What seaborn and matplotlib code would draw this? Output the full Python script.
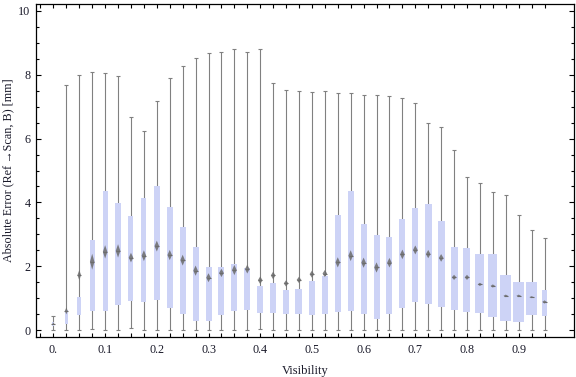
import numpy as np
import matplotlib
matplotlib.use("Agg")
import matplotlib.pyplot as plt
from matplotlib.patches import Polygon
import seaborn as sns
import pandas as pd

# Box-whisker summaries
visibility = [0.0, 0.025, 0.05, 0.075, 0.1, 0.125, 0.15, 0.175, 0.2, 0.225,
              0.25, 0.275, 0.3, 0.325, 0.35, 0.375, 0.4, 0.425, 0.45, 0.475,
              0.5, 0.525, 0.55, 0.575, 0.6, 0.625, 0.65, 0.675, 0.7, 0.725,
              0.75, 0.775, 0.8, 0.825, 0.85, 0.875, 0.9, 0.925, 0.95]
whisker_low = [0.0, 0.0, 0.0, 0.02, 0.0, 0.0, 0.06, 0.0, 0.0, 0.0,
               0.0, 0.0, 0.0, 0.0, 0.0, 0.0, 0.03, 0.0, 0.0, 0.0,
               0.0, 0.0, 0.0, 0.0, 0.0, 0.0, 0.0, 0.0, 0.0, 0.0,
               0.0, 0.0, 0.0, 0.0, 0.0, 0.0, 0.0, 0.0, 0.0]
q1 = [0.12, 0.19, 0.48, 0.58, 0.61, 0.79, 0.92, 0.89, 0.95, 0.70,
      0.51, 0.29, 0.29, 0.48, 0.60, 0.63, 0.54, 0.54, 0.51, 0.51,
      0.46, 0.51, 0.57, 0.61, 0.51, 0.36, 0.51, 0.70, 0.88, 0.82,
      0.73, 0.64, 0.57, 0.52, 0.42, 0.28, 0.26, 0.48, 0.45]
mean_err = [0.20, 0.60, 1.72, 2.14, 2.45, 2.48, 2.27, 2.33, 2.63, 2.35,
            2.19, 1.86, 1.64, 1.79, 1.88, 1.91, 1.56, 1.71, 1.46, 1.57,
            1.75, 1.77, 2.12, 2.33, 2.11, 1.96, 2.11, 2.37, 2.51, 2.38,
            2.26, 1.65, 1.65, 1.43, 1.38, 1.07, 1.07, 1.03, 0.88]
q3 = [0.26, 0.63, 1.03, 2.82, 4.36, 3.98, 3.57, 4.13, 4.51, 3.85,
      3.22, 2.60, 1.97, 1.97, 2.07, 1.93, 1.38, 1.47, 1.25, 1.29,
      1.54, 1.69, 3.60, 4.36, 3.32, 2.98, 2.92, 3.48, 3.82, 3.95,
      3.42, 2.60, 2.57, 2.38, 2.38, 1.72, 1.50, 1.50, 1.25]
whisker_high = [0.43, 7.67, 7.98, 8.08, 8.05, 7.95, 6.67, 6.23, 7.17, 7.89,
                8.27, 8.52, 8.67, 8.70, 8.80, 8.70, 8.80, 7.73, 7.51, 7.48,
                7.45, 7.48, 7.42, 7.42, 7.36, 7.36, 7.32, 7.26, 7.11, 6.48,
                6.35, 5.63, 4.79, 4.60, 4.32, 4.22, 3.60, 3.13, 2.87]
mean_ci = [0.04, 0.11, 0.16, 0.25, 0.21, 0.21, 0.15, 0.17, 0.17, 0.16,
           0.17, 0.16, 0.14, 0.13, 0.16, 0.14, 0.12, 0.12, 0.10, 0.10,
           0.11, 0.11, 0.16, 0.17, 0.16, 0.16, 0.15, 0.15, 0.14, 0.13,
           0.12, 0.08, 0.08, 0.05, 0.05, 0.04, 0.04, 0.03, 0.05]
x_tick_values = [0.0, 0.1, 0.2, 0.3, 0.4, 0.5, 0.6, 0.7, 0.8, 0.9]
x_tick_labels = ['0.', '0.1', '0.2', '0.3', '0.4', '0.5', '0.6', '0.7', '0.8', '0.9']

# box widths in pixels (as drawn in the reference)
box_px = [2, 3, 4, 5, 5, 5.3, 5, 5, 6, 6,
          6, 6, 6, 6, 6, 6, 6.3, 6.3, 6.7, 7,
          6.3, 6, 6, 6, 6, 6, 6, 6, 6, 6.7,
          7, 7, 7, 9, 9, 11, 10.7, 11, 5.7]

sns.set_theme(style="ticks")
plt.rcParams['font.family'] = ['Liberation Serif', 'DejaVu Serif']

BOX_COLOR = '#cdd3f6'
WHISKER_COLOR = '#808080'
MEAN_COLOR = '#6c6c6c'
TEXT_COLOR = '#1a1a2a'
PX = 1 / 517.6  # data units per pixel along x

df = pd.DataFrame({'visibility': visibility, 'lo': whisker_low, 'q1': q1,
                   'mean': mean_err, 'q3': q3, 'hi': whisker_high, 'ci': mean_ci})

fig = plt.figure(figsize=(5.76, 3.77), dpi=100)
ax = fig.add_axes([36 / 576, 1 - 336.7 / 377, 538 / 576, 332.4 / 377])

# whiskers with caps
ax.vlines(df['visibility'], df['lo'], df['hi'], color=WHISKER_COLOR, lw=0.8, zorder=1)
ax.hlines(df['hi'], df['visibility'] - 2 * PX, df['visibility'] + 2 * PX,
          color=WHISKER_COLOR, lw=0.8, zorder=1)
ax.hlines(df['lo'], df['visibility'] - 2 * PX, df['visibility'] + 2 * PX,
          color=WHISKER_COLOR, lw=0.8, zorder=1)

# boxes
widths = np.array(box_px) * PX
ax.bar(df['visibility'], df['q3'] - df['q1'], bottom=df['q1'], width=widths,
       color=BOX_COLOR, edgecolor='none', zorder=2)

# mean diamonds
for x, m, ci, bw in zip(df['visibility'], df['mean'], df['ci'], box_px):
    hw = min(2.3, 0.45 * bw) * PX
    ax.add_patch(Polygon([(x - hw, m), (x, m + ci), (x + hw, m), (x, m - ci)],
                         closed=True, facecolor=MEAN_COLOR, edgecolor='none',
                         alpha=0.85, zorder=3))
sns.scatterplot(data=df, x='visibility', y='mean', marker='_', s=10,
                color=MEAN_COLOR, linewidth=0.8, ax=ax, zorder=4, legend=False)

ax.set_xlim(-0.0337, 1.007)
ax.set_ylim(-0.21, 10.21)
ax.set_xticks(x_tick_values)
ax.set_xticklabels(x_tick_labels)
ax.set_xticks(np.arange(-0.025, 0.96, 0.025), minor=True)
ax.set_yticks([0, 2, 4, 6, 8, 10])
ax.set_yticks(np.arange(0, 10.01, 0.5), minor=True)

ax.tick_params(axis='both', which='both', direction='in', top=True, right=True,
               width=0.8, colors='black', labelsize=8.7, labelcolor=TEXT_COLOR)
ax.tick_params(axis='x', which='both', length=2.9, pad=5.5)
ax.tick_params(axis='y', which='major', length=3.6, pad=4)
ax.tick_params(axis='y', which='minor', length=2.0)
for s in ax.spines.values():
    s.set_color('black')
    s.set_linewidth(0.9)

ax.set_xlabel('Visibility', fontsize=9, labelpad=6, color=TEXT_COLOR)
ax.set_ylabel('Absolute Error (Ref\u2009\u2192Scan, B) [mm]', fontsize=8.7,
              labelpad=2.5, color=TEXT_COLOR)

fig.savefig('out.png', dpi=100)
